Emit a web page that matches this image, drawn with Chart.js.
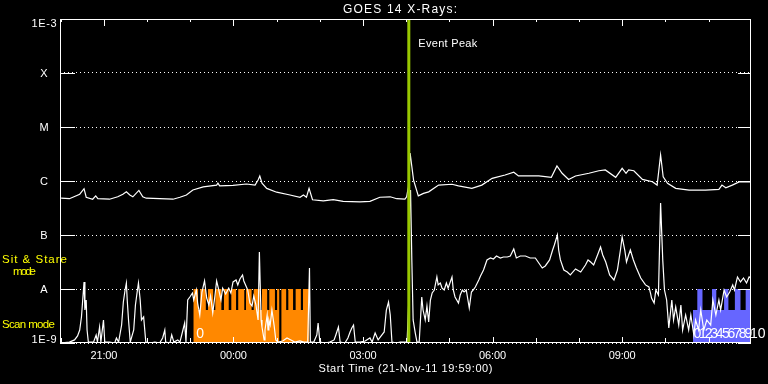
<!DOCTYPE html>
<html><head><meta charset="utf-8">
<script src="https://cdn.jsdelivr.net/npm/chart.js@4/dist/chart.umd.min.js"></script>
<style>html,body{margin:0;padding:0;background:#000;overflow:hidden}canvas{display:block}</style>
</head><body>
<canvas id="c" width="768" height="384"></canvas>
<script>
// ---------- DATA ----------
const startHour = 19 + 59/60;            // 21-Nov-11 19:59:00 (hours; >24 = next day)
const endHour = startHour + 16;
const titleText = 'GOES 14 X-Rays:';
const xAxisTitle = 'Start Time (21-Nov-11 19:59:00)';
const yTickValues = [1e-9, 1e-8, 1e-7, 1e-6, 1e-5, 1e-4, 1e-3];
const yTickLabels = ['1E-9', 'A', 'B', 'C', 'M', 'X', '1E-3'];
const xTickHours = [21, 24, 27, 30, 33];
const xTickLabels = ['21:00', '00:00', '03:00', '06:00', '09:00'];

// GOES long channel (1-8 A)
const longTime = [
20.01,20.20,20.28,20.44,20.54,20.59,20.74,20.81,20.86,21.13,
21.32,21.44,21.52,21.60,21.67,21.81,21.90,21.98,22.29,22.60,
22.76,22.91,23.06,23.30,23.61,23.64,23.68,23.99,24.30,24.50,
24.57,24.61,24.66,24.77,25.00,25.31,25.54,25.62,25.69,25.75,
25.83,26.08,26.31,26.54,26.93,27.16,27.39,27.63,27.78,27.97,
28.01,28.05,28.09,28.17,28.28,28.40,28.52,28.75,29.06,29.21,
29.52,29.75,29.99,30.29,30.49,30.60,30.83,31.07,31.36,31.49,
31.61,31.76,31.92,32.23,32.46,32.61,32.85,33.00,33.09,33.15,
33.27,33.47,33.70,33.81,33.89,33.95,34.05,34.24,34.55,34.93,
35.24,35.31,35.40,35.55,35.71,35.98];
const longFlux = [
4.8e-7,4.7e-7,5.0e-7,5.7e-7,7.2e-7,5.0e-7,4.6e-7,5.3e-7,4.7e-7,4.6e-7,
5.1e-7,5.7e-7,6.3e-7,5.5e-7,5.1e-7,6.7e-7,5.1e-7,4.8e-7,4.7e-7,4.6e-7,
5.0e-7,5.5e-7,6.8e-7,7.8e-7,8.4e-7,9.1e-7,8.1e-7,8.3e-7,8.8e-7,8.4e-7,
1.04e-6,1.24e-6,9.1e-7,7.3e-7,6.2e-7,5.5e-7,5.0e-7,5.5e-7,5.0e-7,7.3e-7,
4.5e-7,4.3e-7,4.5e-7,4.2e-7,4.1e-7,4.2e-7,5.0e-7,5.1e-7,4.7e-7,4.6e-7,
5.1e-7,7.8e-7,3.3e-6,1.04e-6,5.3e-7,5.9e-7,6.3e-7,8.4e-7,8.7e-7,8.1e-7,
7.3e-7,8.4e-7,1.12e-6,1.29e-6,1.45e-6,1.24e-6,1.24e-6,1.24e-6,1.17e-6,1.9e-6,
1.39e-6,1.07e-6,1.24e-6,1.39e-6,1.55e-6,1.6e-6,1.17e-6,1.72e-6,1.39e-6,1.6e-6,
1.55e-6,1.07e-6,9.7e-7,8.4e-7,3.03e-6,1.2e-6,9.1e-7,7.3e-7,6.8e-7,6.8e-7,
7.0e-7,8.4e-7,7.5e-7,8.4e-7,9.6e-7,9.6e-7];

// GOES short channel (0.5-4 A)
const shortTime = [
19.99,20.20,20.32,20.39,20.44,20.48,20.54,20.56,20.59,20.61,
20.64,20.76,20.82,20.85,20.90,20.93,20.99,21.02,21.13,21.25,
21.29,21.34,21.41,21.45,21.49,21.52,21.54,21.57,21.61,21.69,
21.73,21.77,21.80,21.84,21.87,21.92,21.97,22.06,22.18,22.29,
22.36,22.41,22.43,22.53,22.57,22.62,22.71,22.76,22.83,22.87,
22.90,22.94,22.99,23.05,23.08,23.14,23.17,23.22,23.27,23.33,
23.38,23.43,23.47,23.52,23.57,23.61,23.66,23.71,23.75,23.82,
23.89,23.94,23.99,24.06,24.10,24.15,24.21,24.24,24.29,24.33,
24.38,24.43,24.47,24.52,24.57,24.60,24.64,24.66,24.71,24.73,
24.78,24.80,24.82,24.85,24.89,24.94,24.98,25.03,25.14,25.24,
25.33,25.42,25.54,25.63,25.72,25.76,25.78,25.86,25.93,25.96,
26.00,26.12,26.23,26.33,26.37,26.43,26.47,26.58,26.65,26.70,
26.74,26.78,26.82,26.93,27.05,27.16,27.21,27.28,27.35,27.42,
27.49,27.54,27.59,27.63,27.67,27.77,27.86,27.97,28.02,28.06,
28.08,28.10,28.13,28.16,28.21,28.25,28.30,28.36,28.39,28.44,
28.48,28.52,28.56,28.60,28.65,28.71,28.74,28.79,28.83,28.88,
28.93,28.97,29.02,29.06,29.09,29.13,29.21,29.25,29.30,29.34,
29.39,29.46,29.51,29.55,29.60,29.68,29.72,29.79,29.87,29.95,
30.02,30.09,30.18,30.25,30.34,30.41,30.49,30.55,30.64,30.76,
30.87,30.99,31.15,31.22,31.32,31.39,31.43,31.50,31.53,31.57,
31.65,31.73,31.80,31.92,32.04,32.15,32.21,32.27,32.34,32.43,
32.50,32.55,32.62,32.71,32.81,32.89,32.96,33.00,33.06,33.10,
33.15,33.19,33.26,33.33,33.43,33.54,33.62,33.66,33.68,33.74,
33.78,33.84,33.89,33.94,33.98,34.03,34.08,34.15,34.19,34.24,
34.31,34.36,34.40,34.47,34.54,34.59,34.66,34.70,34.77,34.82,
34.89,34.96,35.05,35.10,35.17,35.24,35.28,35.36,35.42,35.49,
35.56,35.60,35.67,35.74,35.81,35.88,35.94,35.98];
const shortFlux = [
1.0e-9,1.04e-9,1.14e-9,1.35e-9,1.74e-9,3.03e-9,1.35e-8,4.08e-9,6.26e-9,1.74e-9,
1.04e-9,1.04e-9,1.41e-9,1.04e-9,1.98e-9,1.04e-9,2.67e-9,1.04e-9,1.04e-9,1.0e-9,
1.24e-9,1.04e-9,2.15e-9,5.74e-9,9.58e-9,1.29e-8,6.26e-9,2.67e-9,1.04e-9,1.74e-9,
5.06e-9,8.8e-9,1.29e-8,6.26e-9,2.67e-9,3.03e-9,1.04e-9,1.0e-9,1.04e-9,1.0e-9,
1.24e-9,1.74e-9,1.04e-9,1.0e-9,1.41e-9,1.04e-9,1.14e-9,1.04e-9,1.74e-9,2.35e-9,
1.04e-9,6.26e-9,7.11e-9,8.43e-9,6.26e-9,9.58e-9,5.5e-9,3.3e-9,8.8e-9,1.41e-8,
6.81e-9,5.06e-9,7.42e-9,3.59e-9,7.42e-9,1.41e-8,9.58e-9,6.26e-9,1.04e-8,8.1e-9,
1.04e-8,8.43e-9,1.35e-8,1.47e-8,1.19e-8,1.53e-8,1.82e-8,1.41e-8,1.14e-8,9.58e-9,
5.5e-9,4.84e-9,7.42e-9,5.06e-9,2.67e-9,4.84e-8,2.67e-9,1.98e-9,1.14e-9,1.74e-9,
3.3e-9,1.74e-9,2.67e-9,2.15e-9,4.08e-9,2.15e-9,1.14e-9,1.04e-9,1.09e-9,1.24e-9,
1.14e-9,1.04e-9,1.09e-9,1.04e-9,1.04e-9,2.45e-8,1.04e-9,1.04e-9,1.41e-9,2.35e-9,
1.04e-9,1.0e-9,1.04e-9,1.14e-9,1.41e-9,1.98e-9,1.04e-9,1.0e-9,1.24e-9,1.6e-9,
1.9e-9,2.15e-9,1.04e-9,1.04e-9,1.09e-9,1.24e-9,1.04e-9,1.53e-9,1.14e-9,1.35e-9,
1.6e-9,4.08e-9,5.74e-9,3.3e-9,1.04e-9,1.0e-9,1.04e-9,1.04e-9,1.04e-9,6.26e-9,
4.45e-7,6.8e-7,3.45e-8,2.67e-9,1.53e-9,1.04e-9,1.04e-9,7.11e-9,4.08e-9,2.67e-9,
4.84e-9,2.45e-9,6.26e-9,8.43e-9,9.58e-9,1.67e-8,1.19e-8,1.29e-8,1.04e-8,9.58e-9,
1.29e-8,1.04e-8,1.35e-8,1.67e-8,9.58e-9,7.11e-9,5.5e-9,7.74e-9,9.58e-9,8.8e-9,
9.58e-9,4.45e-9,8.8e-9,9.58e-9,1.09e-8,1.47e-8,1.74e-8,2.25e-8,3.45e-8,3.75e-8,
3.59e-8,4.08e-8,3.75e-8,3.91e-8,3.91e-8,4.08e-8,5.5e-8,3.75e-8,4.08e-8,4.08e-8,
3.75e-8,3.75e-8,2.45e-8,2.67e-8,3.45e-8,5.27e-8,6.53e-8,1.0e-7,5.27e-8,3.45e-8,
2.25e-8,2.06e-8,1.82e-8,2.35e-8,2.06e-8,2.78e-8,3.45e-8,3.16e-8,2.78e-8,4.26e-8,
6.0e-8,4.26e-8,3.16e-8,1.82e-8,1.47e-8,2.25e-8,5.27e-8,9.18e-8,5.27e-8,3.16e-8,
4.26e-8,5.27e-8,3.45e-8,2.45e-8,1.6e-8,1.19e-8,1.09e-8,8.1e-9,6.81e-9,5.5e-9,
9.58e-9,7.74e-9,3.91e-7,3.45e-8,9.58e-9,6.26e-9,1.9e-9,6.26e-9,2.67e-9,4.64e-9,
2.15e-9,5.06e-9,1.74e-9,3.3e-9,1.74e-9,3.3e-9,1.41e-9,2.67e-9,1.74e-9,4.08e-9,
1.74e-9,2.67e-9,2.15e-9,6.26e-9,3.3e-9,6.26e-9,4.08e-9,9.58e-9,7.11e-9,8.8e-9,
1.19e-8,9.58e-9,1.67e-8,1.35e-8,1.6e-8,1.29e-8,1.67e-8,1.6e-8];

// Instrument mode bars (step levels; each level holds until the next time)
const modeATime = [23.07,23.18,23.23,23.36,23.41,23.53,23.58,23.72,23.78,23.89,
  23.95,24.06,24.11,24.25,24.29,24.42,24.47,24.61,24.66,24.78,
  24.83,24.96,25.01,25.06,25.11,25.22,25.27,25.38,25.44,25.56,25.61,25.76];
const modeALevel = [1e-8,4.1e-9,1e-8,4.1e-9,1e-8,4.1e-9,1e-8,4.1e-9,1e-8,4.1e-9,
  1e-8,4.1e-9,1e-8,4.1e-9,1e-8,4.1e-9,1e-8,4.1e-9,1e-8,4.1e-9,
  1e-8,4.1e-9,1e-8,1e-9,1e-8,4.1e-9,1e-8,4.1e-9,1e-8,4.1e-9,1e-8,1e-9];
const modeBTime = [34.64,34.74,34.86,35.08,35.18,35.36,35.46,35.61,35.74,35.86,35.99];
const modeBLevel = [4.1e-9,1e-8,4.1e-9,1e-8,4.1e-9,1e-8,4.1e-9,1e-8,4.1e-9,1e-8,1e-8];
const modeALabels = ['0'];
const modeALabelTime = [23.14];
const modeBLabels = ['0','1','2','3','4','5','6','7','8','9','10'];
const modeBLabelTime = [34.65,34.78,34.91,35.04,35.17,35.31,35.44,35.57,35.70,35.83,35.96];

const eventPeakHour = 28.06;
const eventPeakLabel = 'Event Peak';
const modeNames = ['Sit & Stare', 'mode', 'Scan mode'];

// ---------- CHART ----------
const pts = (t, v) => t.map((x, i) => ({x, y: v[i]}));

function drawFit(ctx, text, x, y, w, align) {
  ctx.letterSpacing = '0px';
  const n = text.length;
  const m = ctx.measureText(text).width;
  let ls = (w && n > 1) ? (w - m) / (n - 1) : 0;
  if ('letterSpacing' in ctx) ctx.letterSpacing = ls.toFixed(2) + 'px'; else ls = 0;
  const total = m + ls * (n - 1);
  const left = align === 'center' ? x - total / 2 : align === 'right' ? x - total : x;
  ctx.textAlign = 'left';
  ctx.fillText(text, left, y);
  ctx.letterSpacing = '0px';
}

const decor = {
  id: 'decor',
  afterDraw(chart) {
    const {ctx, chartArea: a, scales: {x, y}} = chart;
    ctx.save();
    ctx.strokeStyle = '#fff';
    ctx.lineWidth = 1;
    const seg = (x1, y1, x2, y2) => { ctx.beginPath(); ctx.moveTo(x1, y1); ctx.lineTo(x2, y2); ctx.stroke(); };
    // frame
    ctx.strokeRect(a.left + 0.5, a.top + 0.5, a.right - a.left - 1, a.bottom - a.top - 1);
    // y major ticks (inward, both sides)
    yTickValues.forEach(v => {
      const py = Math.round(y.getPixelForValue(v)) + 0.5;
      seg(a.left, py, a.left + 15, py);
      seg(a.right - 13, py, a.right, py);
    });
    // x ticks every hour (inward)
    for (let h = Math.ceil(x.min); h <= x.max; h++) {
      const px = Math.round(x.getPixelForValue(h)) + 0.5;
      const major = h % 3 === 0;
      seg(px, a.top, px, a.top + (major ? 7 : 3));
      seg(px, a.bottom, px, a.bottom - (major ? 6 : 5));
    }
    // texts
    ctx.fillStyle = '#fff';
    ctx.textBaseline = 'alphabetic';
    ctx.font = '12px "Liberation Sans", Arial, sans-serif';
    drawFit(ctx, titleText, 400, 13, 114, 'center');
    ctx.font = '11px "Liberation Sans", Arial, sans-serif';
    yTickValues.forEach((v, i) => {
      const py = y.getPixelForValue(v);
      const by = Math.min(Math.max(py + 4.3, a.top + 8), a.bottom + 0.3);
      const lab = yTickLabels[i];
      drawFit(ctx, lab, 44, by, lab.length > 1 ? 25 : 0, 'center');
    });
    xTickHours.forEach((h, i) => {
      drawFit(ctx, xTickLabels[i], x.getPixelForValue(h), 358.5, 27, 'center');
    });
    drawFit(ctx, xAxisTitle, (a.left + a.right) / 2, 372, 174, 'center');
    drawFit(ctx, eventPeakLabel, x.getPixelForValue(eventPeakHour) + 9.5, 47, 59, 'left');
    // mode labels
    ctx.font = '14px "Liberation Sans", Arial, sans-serif';
    modeALabels.forEach((t, i) => drawFit(ctx, t, x.getPixelForValue(modeALabelTime[i]), 338, 0, 'left'));
    modeBLabels.forEach((t, i) => drawFit(ctx, t, x.getPixelForValue(modeBLabelTime[i]), 338, 0, 'left'));
    // yellow mode names
    ctx.fillStyle = '#ffff00';
    ctx.font = '11.5px "Liberation Sans", Arial, sans-serif';
    drawFit(ctx, modeNames[0], 2, 263, 65, 'left');
    drawFit(ctx, modeNames[1], 13, 275, 23, 'left');
    drawFit(ctx, modeNames[2], 2, 328, 53, 'left');
    ctx.restore();
  }
};

new Chart(document.getElementById('c'), {
  type: 'line',
  data: {
    datasets: [
      {label: 'Event Peak', data: [{x: eventPeakHour, y: 1e-9}, {x: eventPeakHour, y: 1e-3}],
       borderColor: '#98c800', borderWidth: 3, pointRadius: 0, order: 0},
      {label: 'GOES14 1.0-8.0 A', data: pts(longTime, longFlux),
       borderColor: '#ffffff', borderWidth: 1.2, pointRadius: 0, tension: 0, order: 1},
      {label: 'GOES14 0.5-4.0 A', data: pts(shortTime, shortFlux),
       borderColor: '#ffffff', borderWidth: 1.2, pointRadius: 0, tension: 0, order: 2},
      {label: 'Mode 1', data: pts(modeATime, modeALevel), stepped: true, fill: 'start',
       backgroundColor: '#ff8800', borderColor: 'rgba(0,0,0,0)', borderWidth: 0, pointRadius: 0, order: 3},
      {label: 'Mode 2', data: pts(modeBTime, modeBLevel), stepped: true, fill: 'start',
       backgroundColor: '#6666ff', borderColor: 'rgba(0,0,0,0)', borderWidth: 0, pointRadius: 0, order: 4}
    ]
  },
  options: {
    responsive: false,
    animation: false,
    devicePixelRatio: 1,
    layout: {padding: {top: 19, right: 17, left: 0, bottom: 0}},
    plugins: {legend: {display: false}, tooltip: {enabled: false}, title: {display: false}},
    scales: {
      x: {
        type: 'linear', min: startHour, max: endHour,
        ticks: {display: false}, grid: {display: false}, border: {display: false},
        afterFit(s) { s.height = 41; }
      },
      y: {
        type: 'logarithmic', min: 1e-9, max: 1e-3,
        afterBuildTicks(s) { s.ticks = yTickValues.map(v => ({value: v})); },
        ticks: {display: false},
        grid: {color: '#ffffff', lineWidth: 1, drawTicks: false},
        border: {display: false, dash: [1, 3]},
        afterFit(s) { s.width = 60; }
      }
    }
  },
  plugins: [decor]
});
</script>
</body></html>
